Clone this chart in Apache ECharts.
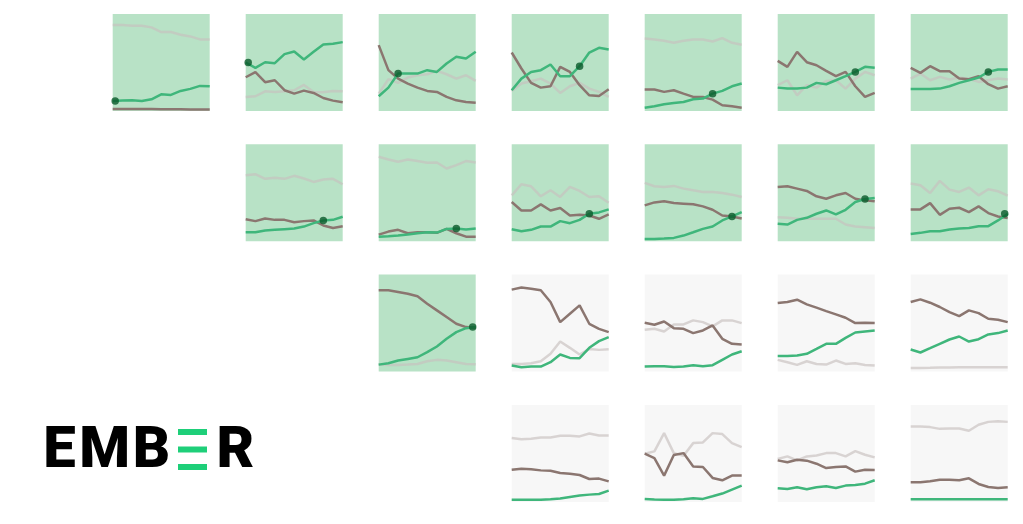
<!DOCTYPE html>
<html>
<head>
<meta charset="utf-8">
<script src="https://cdn.jsdelivr.net/npm/echarts@6/dist/echarts.min.js"></script>
<style>
  html, body { margin: 0; padding: 0; background: #ffffff; }
  #chart { width: 1023px; height: 524px; }
</style>
</head>
<body>
<div id="chart"></div>
<script>
// Years along each small panel's x axis
const years = [2014, 2015, 2016, 2017, 2018, 2019, 2020, 2021, 2022, 2023, 2024];

// Panel slots in the matrix: [row, column]
const panelSlots = [
  [0, 0], [0, 1], [0, 2], [0, 3], [0, 4], [0, 5], [0, 6],
  [1, 1], [1, 2], [1, 3], [1, 4], [1, 5], [1, 6],
  [2, 2], [2, 3], [2, 4], [2, 5], [2, 6],
  [3, 3], [3, 4], [3, 5], [3, 6]
];

// Whether the panel is highlighted (renewables overtook another source)
const highlighted = [
  true, true, true, true, true, true, true,
  true, true, true, true, true, true,
  true, false, false, false, false,
  false, false, false, false
];

// Year index at which the crossover is marked (null = none)
const crossoverIndex = [
  0, 0, 2, 7, 7, 8, 8,
  8, 8, 8, 9, 9, 10,
  10, null, null, null, null,
  null, null, null, null
];

// Share of generation (%) – fossil
const fossilShare = [
  [2.1, 2.1, 2.1, 2.0, 2.0, 1.8, 1.8, 1.7, 1.6, 1.5, 1.5],
  [34.8, 40.0, 29.7, 31.7, 21.4, 17.9, 21.0, 18.6, 13.4, 10.7, 9.0],
  [67.9, 42.1, 33.4, 28.3, 24.1, 20.7, 19.7, 14.5, 11.0, 9.3, 8.6],
  [60.3, 43.8, 29.0, 24.1, 25.5, 45.5, 40.3, 26.6, 16.2, 15.5, 22.4],
  [22.1, 22.1, 19.7, 21.4, 17.9, 14.5, 14.5, 11.7, 5.9, 4.8, 3.4],
  [51.7, 45.5, 61.0, 50.3, 47.2, 41.4, 35.9, 40.3, 25.5, 14.5, 18.6],
  [44.5, 39.3, 46.2, 41.0, 41.0, 33.4, 32.8, 35.9, 27.6, 23.1, 25.5],
  [22.8, 20.8, 23.5, 22.1, 22.1, 19.7, 20.8, 21.5, 16.3, 13.8, 15.6],
  [6.9, 10.0, 11.8, 8.3, 9.3, 9.3, 8.7, 12.8, 8.3, 4.8, 4.8],
  [40.5, 31.8, 31.8, 38.1, 31.8, 34.3, 26.6, 27.3, 26.6, 23.2, 27.7],
  [37.0, 40.1, 41.2, 39.4, 38.8, 38.1, 36.0, 32.5, 26.6, 25.6, 23.5],
  [56.1, 56.7, 54.3, 51.9, 46.4, 43.9, 47.4, 49.8, 43.9, 42.2, 41.2],
  [32.9, 32.9, 39.4, 27.3, 33.6, 34.6, 30.1, 36.0, 29.1, 25.6, 23.9],
  [83.8, 83.8, 82.1, 80.3, 77.6, 70.0, 63.1, 56.2, 49.3, 45.9, 45.2],
  [84.5, 86.6, 85.5, 83.8, 71.7, 51.0, 59.7, 68.3, 49.3, 44.1, 40.7],
  [50.3, 48.3, 51.7, 44.8, 44.1, 39.7, 42.4, 47.6, 33.8, 28.6, 27.9],
  [70.7, 71.7, 74.1, 69.3, 65.9, 62.4, 59.0, 55.5, 50.0, 50.3, 50.0],
  [71.7, 74.5, 71.0, 66.6, 61.4, 57.2, 63.1, 60.3, 54.5, 53.4, 51.0],
  [33.2, 34.2, 33.6, 32.5, 32.2, 29.8, 29.1, 27.7, 23.6, 24.0, 21.2],
  [49.7, 45.2, 27.1, 48.3, 50.3, 36.6, 36.0, 24.7, 22.3, 27.1, 27.1],
  [42.8, 40.8, 43.5, 42.5, 39.4, 34.9, 36.0, 36.6, 31.2, 33.2, 32.9],
  [20.2, 20.2, 21.2, 22.9, 22.9, 22.3, 24.3, 18.5, 15.4, 14.4, 15.1]
];

// Share of generation (%) – renewables
const renewableShare = [
  [10.3, 10.7, 11.0, 10.3, 12.1, 17.2, 16.6, 20.7, 22.8, 25.9, 25.5],
  [50.0, 44.5, 50.3, 49.3, 58.6, 61.4, 53.1, 61.0, 68.6, 69.3, 71.0],
  [15.2, 24.1, 38.6, 38.6, 38.6, 42.1, 40.3, 49.0, 55.9, 54.1, 61.0],
  [21.4, 33.4, 40.3, 42.1, 47.9, 35.9, 35.9, 46.2, 60.3, 65.2, 63.4],
  [3.4, 4.8, 6.9, 8.3, 9.3, 12.1, 12.8, 17.9, 20.7, 25.5, 28.3],
  [24.1, 23.1, 23.1, 24.1, 29.0, 27.6, 31.7, 35.9, 40.3, 45.5, 44.5],
  [22.8, 22.8, 22.8, 23.1, 25.5, 29.0, 31.7, 34.5, 40.3, 42.8, 42.8],
  [9.3, 9.3, 11.1, 11.8, 12.5, 13.1, 15.2, 18.7, 21.5, 22.1, 25.3],
  [4.8, 5.2, 5.9, 6.9, 8.3, 9.3, 9.0, 12.8, 13.1, 12.1, 13.1],
  [12.5, 10.4, 11.8, 15.2, 15.2, 20.8, 18.7, 22.1, 28.4, 29.8, 32.9],
  [2.4, 2.4, 2.8, 3.5, 5.9, 9.3, 12.8, 15.2, 21.5, 25.6, 30.1],
  [18.0, 17.3, 22.1, 24.2, 28.4, 31.8, 27.7, 32.5, 40.5, 43.6, 44.6],
  [7.6, 8.7, 10.4, 10.4, 12.1, 13.1, 13.8, 15.6, 15.6, 21.5, 28.4],
  [7.2, 8.6, 11.4, 13.1, 14.8, 20.0, 25.9, 33.8, 40.7, 44.8, 45.9],
  [6.2, 4.5, 5.2, 5.2, 9.7, 17.6, 14.1, 13.8, 24.5, 31.4, 35.5],
  [5.2, 5.5, 5.5, 4.8, 5.2, 6.6, 5.5, 6.6, 12.1, 17.6, 21.0],
  [16.2, 16.2, 16.6, 18.3, 23.4, 28.6, 28.6, 34.8, 40.3, 41.4, 42.4],
  [22.8, 19.7, 24.1, 28.6, 33.1, 36.2, 31.0, 33.4, 38.3, 39.7, 42.4],
  [2.1, 2.1, 2.1, 2.1, 2.7, 3.4, 5.1, 6.5, 7.5, 8.2, 11.6],
  [3.1, 2.4, 2.1, 2.1, 2.7, 3.8, 3.1, 5.8, 8.6, 12.7, 16.8],
  [14.0, 13.4, 15.1, 13.0, 15.1, 16.1, 14.4, 16.8, 17.5, 18.8, 22.3],
  [2.7, 2.7, 2.7, 2.7, 2.7, 2.7, 2.7, 2.7, 2.8, 2.8, 2.8]
];

// Share of generation (%) – other sources
const otherShare = [
  [88.6, 88.6, 87.9, 87.9, 86.2, 81.4, 81.4, 78.6, 76.9, 73.8, 73.8],
  [14.5, 15.2, 20.3, 19.7, 20.3, 21.4, 26.9, 19.7, 19.3, 20.7, 20.3],
  [17.9, 32.8, 29.0, 34.5, 36.9, 37.9, 41.4, 37.9, 33.4, 36.9, 31.0],
  [20.7, 28.3, 30.7, 33.4, 28.3, 18.6, 25.5, 29.0, 23.1, 19.7, 14.5],
  [74.8, 73.8, 72.4, 70.3, 72.4, 73.8, 73.8, 71.7, 75.2, 70.3, 68.3],
  [26.6, 31.7, 16.2, 26.6, 24.1, 31.0, 31.7, 23.1, 33.4, 40.3, 36.9],
  [33.4, 38.6, 31.7, 35.2, 32.4, 34.5, 33.1, 30.0, 31.7, 33.4, 32.4],
  [68.2, 69.2, 64.4, 65.4, 64.4, 67.5, 64.7, 61.2, 63.7, 64.4, 58.8],
  [87.2, 84.4, 82.0, 84.4, 82.7, 81.0, 81.3, 75.1, 78.5, 82.7, 81.3],
  [47.4, 58.8, 56.7, 46.4, 52.6, 45.7, 56.1, 51.9, 45.7, 46.4, 39.8],
  [60.2, 56.7, 56.1, 57.1, 54.3, 52.6, 50.9, 50.9, 49.8, 48.1, 45.7],
  [24.9, 24.2, 23.2, 23.2, 23.2, 23.2, 23.2, 17.3, 15.2, 14.5, 13.8],
  [59.5, 57.8, 49.8, 62.3, 53.3, 50.9, 55.4, 47.4, 53.6, 51.6, 47.1],
  [7.2, 6.9, 6.9, 7.2, 7.9, 10.7, 12.1, 11.4, 9.7, 7.9, 7.6],
  [7.9, 7.9, 8.6, 10.7, 18.3, 31.0, 24.5, 17.6, 23.4, 22.4, 23.1],
  [43.1, 44.1, 41.4, 48.6, 48.6, 52.8, 51.0, 46.6, 52.8, 52.8, 50.0],
  [12.1, 9.7, 6.9, 10.7, 7.9, 7.2, 11.4, 7.9, 8.6, 6.9, 6.2],
  [3.8, 3.8, 3.9, 4.1, 4.3, 4.5, 4.5, 4.5, 4.5, 4.5, 4.5],
  [65.8, 64.7, 65.1, 66.4, 66.4, 68.2, 68.2, 67.5, 70.5, 68.5, 68.5],
  [49.7, 52.1, 70.9, 50.3, 47.6, 60.6, 61.3, 70.9, 69.9, 60.6, 56.5],
  [44.2, 46.9, 42.8, 46.9, 47.9, 50.3, 50.3, 46.9, 52.4, 48.6, 45.9],
  [77.7, 77.7, 77.1, 75.3, 75.7, 75.7, 73.3, 79.5, 82.5, 83.2, 82.5]
];

// Layout of the panel matrix (pixels)
const layout = { left: 112.7, top: 14, colStep: 133, rowStep: 130.3, size: 97 };

const colors = {
  fossil: '#8b7670',
  renewables: '#3fb67b',
  other: 'rgba(200,192,190,0.65)',
  marker: '#0a5a2b',
  panelOn: '#b8e2c6',
  panelOff: '#f7f7f7'
};
const lineWidth = 2.5;

const grids = [], xAxes = [], yAxes = [], series = [];

panelSlots.forEach(function (slot, i) {
  const row = slot[0], col = slot[1];
  grids.push({
    left: layout.left + col * layout.colStep,
    top: layout.top + row * layout.rowStep,
    width: layout.size,
    height: layout.size,
    show: true,
    borderWidth: 0,
    backgroundColor: highlighted[i] ? colors.panelOn : colors.panelOff
  });
  xAxes.push({
    gridIndex: i, type: 'category', data: years, boundaryGap: false, show: false
  });
  yAxes.push({
    gridIndex: i, type: 'value', min: 0, max: 100, show: false
  });

  const lineBase = {
    type: 'line', xAxisIndex: i, yAxisIndex: i,
    showSymbol: false, symbol: 'none', silent: true, animation: false
  };
  series.push(Object.assign({}, lineBase, {
    name: 'Other', data: otherShare[i],
    lineStyle: { color: colors.other, width: lineWidth }
  }));
  series.push(Object.assign({}, lineBase, {
    name: 'Fossil', data: fossilShare[i],
    lineStyle: { color: colors.fossil, width: lineWidth }
  }));
  series.push(Object.assign({}, lineBase, {
    name: 'Renewables', data: renewableShare[i],
    lineStyle: { color: colors.renewables, width: lineWidth }
  }));

  const k = crossoverIndex[i];
  if (k !== null) {
    // keep markers at the panel edges inside the panel
    const nudge = k === 0 ? 2.5 : (k === years.length - 1 ? -3 : 0);
    series.push({
      type: 'scatter', xAxisIndex: i, yAxisIndex: i,
      data: [[k, renewableShare[i][k]]],
      symbol: 'circle', symbolSize: 7.5, symbolOffset: [nudge, 0],
      itemStyle: { color: colors.marker },
      silent: true, animation: false, z: 5
    });
  }
});

// EMBER wordmark: bold letters with a three-bar green "E"
const logoFont = '900 58px Roboto, "DejaVu Sans", sans-serif';
const logoMidY = 452.5;
function letter(ch, cx) {
  return {
    type: 'text', x: cx, y: logoMidY, silent: true,
    style: { text: ch, font: logoFont, fill: '#000000', align: 'center', verticalAlign: 'middle' }
  };
}
const logoGreen = '#1ecf79';
const graphic = [
  letter('E', 59.5),
  letter('M', 104.7),
  letter('B', 151.5),
  { type: 'rect', silent: true, shape: { x: 178, y: 429, width: 29, height: 6 }, style: { fill: logoGreen } },
  { type: 'rect', silent: true, shape: { x: 178, y: 446.5, width: 29, height: 6 }, style: { fill: logoGreen } },
  { type: 'rect', silent: true, shape: { x: 178, y: 464, width: 29, height: 6 }, style: { fill: logoGreen } },
  letter('R', 235.5)
];

const chart = echarts.init(document.getElementById('chart'), null, { renderer: 'canvas' });
chart.setOption({
  animation: false,
  backgroundColor: '#ffffff',
  grid: grids,
  xAxis: xAxes,
  yAxis: yAxes,
  series: series,
  graphic: graphic
});
</script>
</body>
</html>
